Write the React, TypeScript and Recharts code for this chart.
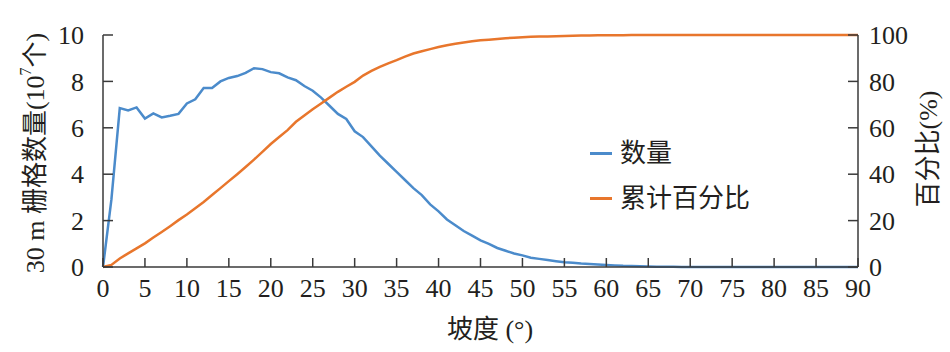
import { LineChart, Line, XAxis, YAxis, Legend } from 'recharts';

// slope in degrees
const slope = [
  0, 1, 2, 3, 4, 5, 6, 7, 8, 9, 10, 11, 12, 13, 14, 15, 16, 17, 18, 19,
  20, 21, 22, 23, 24, 25, 26, 27, 28, 29, 30, 31, 32, 33, 34, 35, 36, 37, 38, 39,
  40, 41, 42, 43, 44, 45, 46, 47, 48, 49, 50, 51, 52, 53, 54, 55, 56, 57, 58, 59,
  60, 61, 62, 63, 64, 65, 66, 67, 68, 69, 70, 71, 72, 73, 74, 75, 76, 77, 78, 79,
  80, 81, 82, 83, 84, 85, 86, 87, 88, 89, 90,
];

// cell count, 10^7
const count = [
  0, 2.9, 6.85, 6.75, 6.88, 6.4, 6.62, 6.45, 6.52, 6.6,
  7.05, 7.23, 7.72, 7.72, 8.0, 8.15, 8.23, 8.37, 8.57, 8.53,
  8.4, 8.35, 8.17, 8.05, 7.8, 7.6, 7.3, 6.95, 6.6, 6.38,
  5.85, 5.6, 5.2, 4.8, 4.45, 4.1, 3.75, 3.4, 3.1, 2.7,
  2.4, 2.05, 1.8, 1.55, 1.35, 1.15, 1.0, 0.82, 0.7, 0.58,
  0.5, 0.4, 0.35, 0.3, 0.25, 0.2, 0.18, 0.15, 0.13, 0.11,
  0.09, 0.07, 0.05, 0.04, 0.03, 0.02, 0.015, 0.01, 0.01, 0.005,
  0, 0, 0, 0, 0, 0, 0, 0, 0, 0,
  0, 0, 0, 0, 0, 0, 0, 0, 0, 0, 0,
];

// cumulative percent
const cumulative = [
  0, 0.9, 3.7, 5.9, 8.0, 10.2, 12.7, 15.1, 17.6, 20.2,
  22.6, 25.3, 28.0, 31.0, 34.0, 37.0, 40.0, 43.1, 46.3, 49.6,
  53.0, 56.0, 59.0, 62.6, 65.3, 68.0, 70.5, 73.0, 75.5, 77.7,
  79.8, 82.5, 84.5, 86.3, 87.8, 89.2, 90.7, 92.0, 93.0, 93.9,
  94.8, 95.6, 96.2, 96.8, 97.3, 97.7, 98.0, 98.3, 98.6, 98.8,
  99.0, 99.2, 99.3, 99.4, 99.5, 99.6, 99.7, 99.75, 99.8, 99.85,
  99.9, 99.92, 99.94, 99.96, 99.97, 99.98, 99.99, 100, 100, 100,
  100, 100, 100, 100, 100, 100, 100, 100, 100, 100,
  100, 100, 100, 100, 100, 100, 100, 100, 100, 100, 100,
];

const xTicks = [0, 5, 10, 15, 20, 25, 30, 35, 40, 45, 50, 55, 60, 65, 70, 75, 80, 85, 90];
const leftTicks = [0, 2, 4, 6, 8, 10];
const rightTicks = [0, 20, 40, 60, 80, 100];

const data = slope.map((s, i) => ({ slope: s, count: count[i], cumulative: cumulative[i] }));

const FONT = '"Liberation Serif", "Times New Roman", "Noto Sans CJK SC", serif';
const FS = 26;
const INK = '#231f20';
const AXIS = '#3a3a3a';
const BLUE = '#4b8bcb';
const ORANGE = '#e8762c';

const XTick = ({ x, y, payload }: any) => (
  <text x={x} y={y} dy="0.71em" textAnchor="middle" fill={INK} fontSize={FS} fontFamily={FONT}>
    {payload.value}
  </text>
);

const LeftTick = ({ x, y, payload }: any) => (
  <text x={x} y={y} dy="0.35em" textAnchor="end" fill={INK} fontSize={FS} fontFamily={FONT}>
    {payload.value}
  </text>
);

const RightTick = ({ x, y, payload }: any) => (
  <text x={x} y={y} dy="0.35em" textAnchor="start" fill={INK} fontSize={FS} fontFamily={FONT}>
    {payload.value}
  </text>
);

const LegendBox = () => (
  <div style={{ fontFamily: FONT, fontSize: FS, color: INK, lineHeight: '45px' }}>
    {[
      { name: '数量', color: BLUE },
      { name: '累计百分比', color: ORANGE },
    ].map((d) => (
      <div key={d.name} style={{ display: 'flex', alignItems: 'center' }}>
        <span style={{ display: 'inline-block', width: 22, height: 2.5, background: d.color, marginRight: 8 }} />
        <span>{d.name}</span>
      </div>
    ))}
  </div>
);

export default function App() {
  return (
    <div style={{ position: 'absolute', left: 0, top: 0, width: 950, height: 352, background: '#fff' }}>
      <LineChart width={950} height={352} data={data} margin={{ top: 35, right: 0, bottom: 0, left: 0 }}>
        <XAxis
          dataKey="slope"
          type="number"
          domain={[0, 90]}
          ticks={xTicks}
          interval={0}
          height={85}
          tickSize={-9}
          tickMargin={21}
          tick={<XTick />}
          stroke={AXIS}
          strokeWidth={1.5}
          label={{
            content: () => (
              <text x={490} y={338} textAnchor="middle" fill={INK} fontSize={FS} fontFamily={FONT}>
                坡度 (°)
              </text>
            ),
          }}
        />
        <YAxis
          yAxisId="left"
          domain={[0, 10]}
          ticks={leftTicks}
          interval={0}
          width={103}
          tickSize={-10}
          tickMargin={29}
          tick={<LeftTick />}
          stroke={AXIS}
          strokeWidth={1.5}
          label={{
            content: () => (
              <text
                x={35}
                y={153}
                transform="rotate(-90 35 153)"
                textAnchor="middle"
                dominantBaseline="central"
                fill={INK}
                fontSize={FS}
                fontFamily={FONT}
              >
                30 m 栅格数量(10
                <tspan dy={-10} fontSize={16}>7</tspan>
                <tspan dy={10}>个)</tspan>
              </text>
            ),
          }}
        />
        <YAxis
          yAxisId="right"
          orientation="right"
          domain={[0, 100]}
          ticks={rightTicks}
          interval={0}
          width={92}
          tickSize={-10}
          tickMargin={21}
          tick={<RightTick />}
          stroke={AXIS}
          strokeWidth={1.5}
          label={{
            content: () => (
              <text
                x={928}
                y={149}
                transform="rotate(-90 928 149)"
                textAnchor="middle"
                dominantBaseline="central"
                fill={INK}
                fontSize={FS}
                fontFamily={FONT}
              >
                百分比(%)
              </text>
            ),
          }}
        />
        <Legend
          layout="vertical"
          align="center"
          verticalAlign="middle"
          content={() => <LegendBox />}
          wrapperStyle={{ left: 590, top: 131, width: 'auto' }}
        />
        <Line
          yAxisId="left"
          dataKey="count"
          name="数量"
          type="linear"
          stroke={BLUE}
          strokeWidth={2.5}
          dot={false}
          isAnimationActive={false}
        />
        <Line
          yAxisId="right"
          dataKey="cumulative"
          name="累计百分比"
          type="linear"
          stroke={ORANGE}
          strokeWidth={2.5}
          dot={false}
          isAnimationActive={false}
        />
      </LineChart>
    </div>
  );
}
